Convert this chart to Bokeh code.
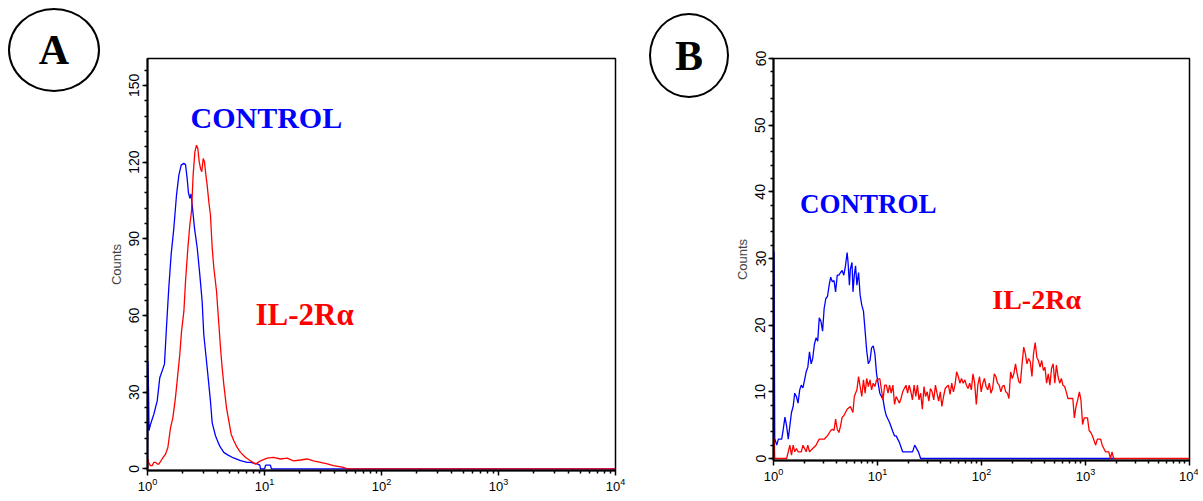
from bokeh.plotting import figure
from bokeh.layouts import row
from bokeh.models import Range1d, FixedTicker, Label, SingleIntervalTicker, Div
from bokeh.embed import file_html
from bokeh.resources import INLINE

# ---------------- data ----------------
# x positions are given as log10 of the fluorescence intensity (decades), y are counts
X_MAJOR_TICKS = [1, 10, 100, 1000, 10000]

A_CTRL_LOG = [0.000, 0.004, 0.009, 0.013, 0.026, 0.054, 0.083, 0.105, 0.125, 0.145,
              0.162, 0.182, 0.202, 0.225, 0.248, 0.268, 0.288, 0.310, 0.325, 0.339,
              0.350, 0.362, 0.372, 0.382, 0.402, 0.425, 0.447, 0.467, 0.481, 0.510,
              0.538, 0.553, 0.581, 0.610, 0.624, 0.652, 0.681, 0.735, 0.795, 0.852,
              0.880, 0.938, 0.960, 0.966, 1.000, 1.010, 1.050, 1.060, 4.000]
A_CTRL_COUNTS = [0, 42, 30, 15, 17.5, 21.4, 26.6, 35.7, 38.3, 41.0,
                 55.2, 70.8, 83.8, 94.1, 107.1, 114.9, 118.8, 119.5, 119.0, 113.6,
                 108.0, 105.8, 107.5, 103.2, 94.1, 86.4, 76.0, 65.6, 52.6, 39.6,
                 26.6, 18.0, 13.0, 9.7, 8.4, 6.5, 5.6, 4.3, 3.3, 2.6,
                 2.6, 2.0, 1.5, 0, 0, 1.5, 1.5, 0, 0]

A_IL2_LOG = [0.000, 0.004, 0.009, 0.025, 0.040, 0.055, 0.068, 0.085, 0.097, 0.125,
             0.154, 0.174, 0.197, 0.217, 0.239, 0.259, 0.276, 0.291, 0.311, 0.325,
             0.345, 0.362, 0.376, 0.390, 0.405, 0.419, 0.430, 0.442, 0.453, 0.464,
             0.476, 0.487, 0.499, 0.510, 0.524, 0.538, 0.553, 0.567, 0.590, 0.610,
             0.624, 0.638, 0.652, 0.675, 0.695, 0.715, 0.738, 0.766, 0.795, 0.838,
             0.880, 0.923, 0.966, 1.023, 1.077, 1.137, 1.194, 1.248, 1.308, 1.365,
             1.419, 1.479, 1.536, 1.590, 1.675, 1.707, 4.000]
A_IL2_COUNTS = [0, 3.9, 2.6, 1.3, 1.3, 2.6, 2.6, 1.9, 1.9, 3.9,
                5.8, 8.4, 16.2, 20.1, 27.9, 37.0, 44.8, 53.9, 61.7, 73.4,
                86.4, 95.5, 100.7, 114.9, 124.0, 126.6, 125.3, 120.1, 117.5, 116.2,
                121.4, 120.1, 114.9, 111.0, 104.5, 99.3, 86.4, 78.6, 69.5, 56.5,
                47.4, 39.6, 33.1, 24.0, 18.8, 13.6, 11.0, 8.4, 6.5, 4.5,
                3.2, 1.9, 3.2, 4.2, 4.5, 3.9, 4.2, 3.2, 3.5, 3.9,
                3.2, 2.6, 2.0, 1.3, 0.6, 0, 0]

B_CTRL_LOG = [0.000, 0.001, 0.005, 0.008, 0.012, 0.031, 0.047, 0.079, 0.094, 0.110,
              0.126, 0.142, 0.157, 0.173, 0.189, 0.204, 0.220, 0.236, 0.252, 0.267,
              0.283, 0.299, 0.314, 0.330, 0.346, 0.362, 0.377, 0.393, 0.409, 0.425,
              0.440, 0.456, 0.472, 0.487, 0.503, 0.519, 0.535, 0.550, 0.566, 0.582,
              0.597, 0.613, 0.629, 0.645, 0.660, 0.676, 0.692, 0.708, 0.717, 0.730,
              0.739, 0.755, 0.764, 0.777, 0.789, 0.802, 0.818, 0.833, 0.849, 0.865,
              0.881, 0.896, 0.912, 0.928, 0.943, 0.959, 0.975, 0.991, 1.006, 1.022,
              1.054, 1.069, 1.085, 1.116, 1.148, 1.163, 1.179, 1.208, 1.242, 1.337,
              1.358, 1.393, 1.415, 3.280]
B_CTRL_COUNTS = [0, 31, 31, 18.6, 3.0, 2.0, 2.9, 2.9, 4.4, 6.2,
                 4.9, 2.9, 4.9, 6.9, 7.8, 9.8, 9.3, 8.3, 10.3, 11.0,
                 10.6, 11.8, 13.0, 13.7, 16.0, 14.2, 15.0, 17.1, 18.1, 17.6,
                 21.1, 20.6, 19.1, 22.5, 24.0, 24.3, 26.0, 27.2, 26.5, 26.7,
                 25.0, 27.5, 27.5, 27.9, 28.2, 27.5, 28.9, 30.9, 29.4, 26.0,
                 28.4, 29.4, 25.0, 27.5, 28.9, 26.0, 27.9, 24.5, 23.0, 22.1,
                 19.1, 16.2, 14.2, 14.7, 16.6, 16.9, 15.7, 12.7, 11.3, 9.8,
                 8.8, 7.4, 6.4, 5.4, 4.0, 3.4, 3.4, 2.5, 1.0, 1.0,
                 2.0, 1.0, 0, 0]

B_IL2_LOG = [0.000, 0.001, 0.008, 0.012, 0.126, 0.142, 0.157, 0.173, 0.189, 0.204,
             0.220, 0.236, 0.267, 0.283, 0.299, 0.314, 0.330, 0.346, 0.377, 0.409,
             0.425, 0.440, 0.487, 0.519, 0.550, 0.566, 0.582, 0.597, 0.613, 0.629,
             0.645, 0.660, 0.676, 0.708, 0.739, 0.764, 0.777, 0.802, 0.818, 0.833,
             0.849, 0.865, 0.881, 0.896, 0.912, 0.928, 0.943, 0.959, 0.975, 0.991,
             1.022, 1.038, 1.053, 1.069, 1.085, 1.101, 1.116, 1.132, 1.148, 1.164,
             1.179, 1.195, 1.211, 1.226, 1.242, 1.258, 1.274, 1.289, 1.305, 1.321,
             1.336, 1.352, 1.368, 1.384, 1.399, 1.415, 1.431, 1.447, 1.462, 1.478,
             1.494, 1.509, 1.525, 1.541, 1.557, 1.572, 1.588, 1.604, 1.619, 1.635,
             1.651, 1.667, 1.682, 1.698, 1.714, 1.730, 1.745, 1.761, 1.777, 1.792,
             1.808, 1.824, 1.840, 1.855, 1.871, 1.887, 1.902, 1.918, 1.934, 1.950,
             1.965, 1.981, 1.997, 2.013, 2.028, 2.044, 2.060, 2.075, 2.091, 2.107,
             2.123, 2.138, 2.154, 2.170, 2.186, 2.201, 2.217, 2.233, 2.249, 2.264,
             2.280, 2.296, 2.311, 2.327, 2.343, 2.359, 2.374, 2.390, 2.406, 2.422,
             2.437, 2.453, 2.469, 2.485, 2.500, 2.516, 2.532, 2.547, 2.563, 2.579,
             2.595, 2.610, 2.626, 2.642, 2.658, 2.673, 2.689, 2.705, 2.720, 2.736,
             2.752, 2.768, 2.783, 2.799, 2.815, 2.831, 2.846, 2.878, 2.893, 2.909,
             2.925, 2.941, 2.956, 2.972, 2.988, 3.019, 3.035, 3.051, 3.066, 3.082,
             3.098, 3.114, 3.145, 3.161, 3.192, 3.224, 3.239, 3.255, 3.271, 4.000]
B_IL2_COUNTS = [0, 2.9, 2.9, 0, 0, 1.0, 2.0, 0.5, 2.0, 1.0,
                1.5, 1.0, 1.0, 2.0, 1.5, 1.0, 2.0, 1.0, 1.5, 2.0,
                2.5, 2.9, 2.9, 3.4, 4.2, 4.4, 4.2, 5.9, 4.4, 3.9,
                4.9, 6.2, 6.4, 7.4, 7.8, 6.9, 9.3, 10.3, 12.3, 10.8,
                9.3, 11.8, 9.8, 12.0, 10.8, 11.8, 10.3, 11.3, 10.8, 11.8,
                12.0, 10.3, 8.8, 11.0, 11.0, 9.8, 11.0, 9.8, 11.0, 8.1,
                9.3, 8.8, 8.3, 9.0, 10.0, 10.5, 11.0, 9.8, 11.0, 10.0,
                8.8, 11.0, 9.3, 11.0, 8.8, 9.8, 7.4, 10.8, 9.3, 10.0,
                8.6, 10.5, 10.0, 8.8, 11.0, 9.8, 8.6, 10.0, 7.8, 9.3,
                10.5, 10.8, 11.0, 9.6, 11.3, 10.0, 11.0, 13.0, 12.3, 11.3,
                12.0, 11.3, 11.8, 11.0, 10.5, 11.3, 10.3, 12.7, 11.3, 8.1,
                11.0, 12.3, 10.0, 11.3, 12.0, 10.8, 10.3, 11.3, 9.8, 10.5,
                12.7, 12.3, 11.3, 11.0, 10.0, 10.8, 11.0, 10.0, 9.8, 9.0,
                13.0, 12.0, 12.7, 14.2, 12.7, 11.5, 11.3, 14.2, 16.7, 15.7,
                14.2, 15.0, 14.5, 12.3, 15.7, 17.4, 15.2, 14.7, 13.7, 14.7,
                13.2, 13.7, 11.3, 12.7, 11.0, 13.5, 14.2, 11.3, 14.0, 12.3,
                11.3, 12.0, 11.0, 10.8, 10.0, 9.0, 9.0, 9.0, 6.1, 7.8,
                8.8, 10.0, 8.8, 5.1, 6.1, 6.1, 4.2, 3.9, 3.4, 2.7,
                2.0, 2.9, 2.9, 2.0, 1.0, 1.0, 0, 1.0, 0, 0]

SERIES_NAMES = ["CONTROL", "IL-2Rα"]
PANEL_LETTERS = ["A", "B"]

BLUE = "#0000ff"
RED = "#ff0000"
H = 501


def to_intensity(decades):
    return [10 ** d for d in decades]


def make_panel(width, height, borders, y_max, y_min, y_interval, ctrl, il2):
    p = figure(width=width, height=height, output_backend="svg", toolbar_location=None,
               x_axis_type="log", x_range=Range1d(1, 10000), y_range=Range1d(y_min, y_max),
               min_border_left=borders[0], min_border_right=borders[1],
               min_border_top=borders[2], min_border_bottom=borders[3])
    p.background_fill_color = "white"
    p.border_fill_color = "white"
    p.outline_line_color = "black"
    p.outline_line_width = 1.5
    p.grid.visible = False

    minor = [m * 10 ** k for k in range(4) for m in range(2, 10)]
    p.xaxis.ticker = FixedTicker(ticks=X_MAJOR_TICKS, minor_ticks=minor)
    p.yaxis.ticker = SingleIntervalTicker(interval=y_interval, num_minor_ticks=5)
    for ax in (p.xaxis, p.yaxis):
        ax.axis_line_color = "black"
        ax.axis_line_width = 2
        ax.major_tick_line_color = "black"
        ax.minor_tick_line_color = "black"
        ax.major_tick_line_width = 1.5
        ax.minor_tick_line_width = 1.5
        ax.major_tick_in = 0
        ax.minor_tick_in = 0
        ax.major_tick_out = 5
        ax.minor_tick_out = 3
        ax.major_label_text_font = "Liberation Sans"
        ax.major_label_text_color = "black"
    p.xaxis.major_label_text_font_size = "13px"
    p.xaxis.major_label_standoff = 2
    p.yaxis.major_label_text_font_size = "14px"
    p.yaxis.major_label_standoff = 3
    p.yaxis.major_label_orientation = "vertical"
    p.yaxis.axis_label = "Counts"
    p.yaxis.axis_label_text_font = "Liberation Sans"
    p.yaxis.axis_label_text_font_style = "normal"
    p.yaxis.axis_label_text_font_size = "13px"
    p.yaxis.axis_label_standoff = 3

    p.line(to_intensity(ctrl[0]), ctrl[1], line_color=BLUE, line_width=1.3)
    p.line(to_intensity(il2[0]), il2[1], line_color=RED, line_width=1.3)
    return p


def circled_letter(letter, width, ml, mt, cw, ch):
    html = ('<div style="box-sizing:border-box; margin-left:%dpx; margin-top:%dpx; '
            'width:%dpx; height:%dpx; border:2px solid black; border-radius:50%%; '
            'display:flex; align-items:center; justify-content:center; '
            'font-family:\'Liberation Serif\'; font-weight:bold; font-size:42px; '
            'color:black; line-height:1;">%s</div>' % (ml, mt, cw, ch, letter))
    return Div(text=html, width=width, height=H, margin=0)


pA = make_panel(533, H, (42, 23, 58, 31), 160.5, -0.6, 30,
                (A_CTRL_LOG, A_CTRL_COUNTS), (A_IL2_LOG, A_IL2_COUNTS))
pB = make_panel(467, H - 10, (33, 9, 52, 31), 60, -0.3, 10,
                (B_CTRL_LOG, B_CTRL_COUNTS), (B_IL2_LOG, B_IL2_COUNTS))

# series labels
pA.add_layout(Label(x=2.33, y=130.8, text=SERIES_NAMES[0], text_color=BLUE,
                    text_font="Liberation Serif", text_font_style="bold", text_font_size="30px"))
pA.add_layout(Label(x=8.38, y=53.4, text=SERIES_NAMES[1], text_color=RED,
                    text_font="Liberation Serif", text_font_style="bold", text_font_size="31px"))
pB.add_layout(Label(x=1.80, y=36.0, text=SERIES_NAMES[0], text_color=BLUE,
                    text_font="Liberation Serif", text_font_style="bold", text_font_size="27px"))
pB.add_layout(Label(x=127, y=21.5, text=SERIES_NAMES[1], text_color=RED,
                    text_font="Liberation Serif", text_font_style="bold", text_font_size="28px"))

divA = circled_letter(PANEL_LETTERS[0], 105, 8, 8, 92, 84)
divB = circled_letter(PANEL_LETTERS[1], 93, 11, 13, 80, 85)

layout = row(divA, pA, divB, pB)
open("out.html", "w").write(file_html(layout, INLINE))
